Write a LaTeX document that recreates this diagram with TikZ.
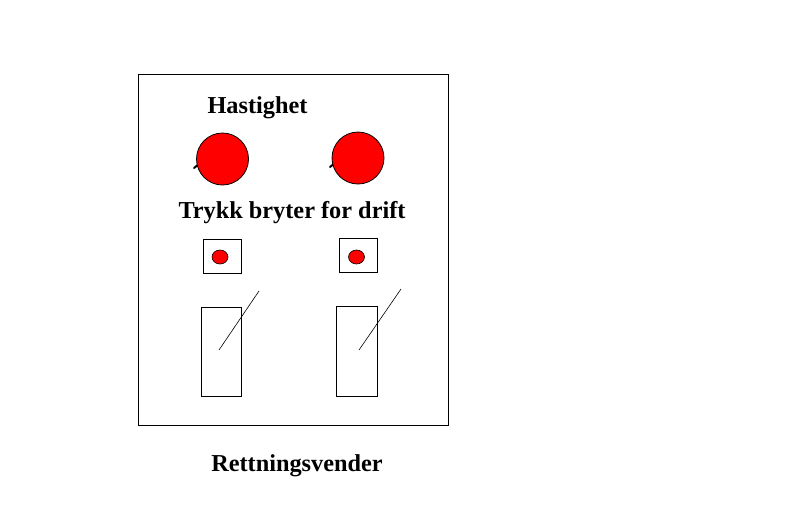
\documentclass[tikz,border=0pt]{standalone}
\usepackage{fontspec}
\setmainfont{Liberation Serif}
\begin{document}
\begin{tikzpicture}[x=1pt,y=-1pt,
  lbl/.style={font=\fontsize{24.3}{28}\selectfont\bfseries, anchor=base, inner sep=0pt},
  knob/.style={draw=black, fill=red, line width=0.8pt},
  lamp/.style={fill=red, draw=black, line width=0.6pt},
  frame/.style={draw=black, line width=0.9pt}]
\useasboundingbox (0,0) rectangle (794,507);
\fill[white] (0,0) rectangle (794,507);
% panel
\node[frame, minimum width=310pt, minimum height=351pt, anchor=north west, inner sep=0pt] (panel) at (138,74) {};
% labels
\node[lbl] (hast) at (257.5,113) {Hastighet};
\node[lbl] (trykk) at (292,218) {Trykk bryter for drift};
\node[lbl] (rett) at (297,471) {Rettningsvender};
% knobs with pointer ticks
\draw[line width=2pt, line cap=round] (194,168) -- (199,164);
\draw[line width=2pt, line cap=round] (330,167) -- (335,163);
\node[knob, circle, minimum size=52pt, inner sep=0pt] (k1) at (222.5,159) {};
\node[knob, circle, minimum size=52pt, inner sep=0pt] (k2) at (358,158) {};
% push buttons
\node[frame, minimum width=38pt, minimum height=34pt, inner sep=0pt] (b1) at (222,256) {};
\node[frame, minimum width=38pt, minimum height=34pt, inner sep=0pt] (b2) at (358,255) {};
\draw[lamp] (220,257) ellipse (8 and 7);
\draw[lamp] (356.5,257) ellipse (8 and 7);
% direction switches
\node[frame, minimum width=40pt, minimum height=89pt, inner sep=0pt, anchor=north west] (s1) at (201,307) {};
\node[frame, minimum width=41pt, minimum height=90pt, inner sep=0pt, anchor=north west] (s2) at (336,306) {};
\coordinate (l1a) at (219,350);
\coordinate (l1b) at (259,291);
\coordinate (l2a) at (359,350);
\coordinate (l2b) at (401,289);
\draw[line width=0.6pt] (l1a) -- (l1b);
\draw[line width=0.6pt] (l2a) -- (l2b);
\end{tikzpicture}
\end{document}
